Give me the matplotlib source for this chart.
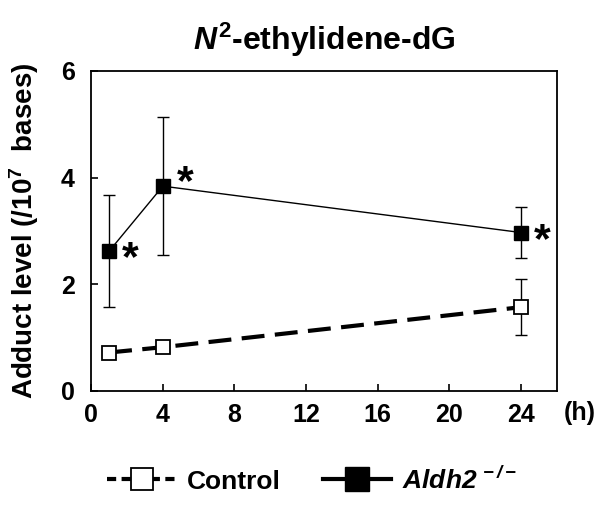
import matplotlib
matplotlib.use("Agg")
import matplotlib.pyplot as plt
from matplotlib.lines import Line2D

plt.rcParams['font.family'] = ['Liberation Sans', 'DejaVu Sans']
plt.rcParams['font.weight'] = 'bold'
plt.rcParams['axes.labelweight'] = 'bold'
plt.rcParams['axes.titleweight'] = 'bold'
plt.rcParams['mathtext.fontset'] = 'custom'
plt.rcParams['mathtext.rm'] = 'Liberation Sans:bold:italic'
plt.rcParams['mathtext.it'] = 'Liberation Sans:bold:italic'
plt.rcParams['mathtext.bf'] = 'Liberation Sans:bold'

# data
hours = [1, 4, 24]
control_mean = [0.72, 0.82, 1.57]
control_err = [0.05, 0.05, 0.52]
aldh2_mean = [2.62, 3.84, 2.97]
aldh2_err = [1.05, 1.30, 0.47]
star_points = [0, 1, 2]  # significant time points (Aldh2)
star_offsets = [(15, -6), (16, 2), (15, -6)]
xticks = [0, 4, 8, 12, 16, 20, 24]
yticks = [0, 2, 4, 6]

fig = plt.figure(figsize=(6, 5.07), dpi=100)
ax = fig.add_axes([0.152, 0.229, 0.776, 0.631])

# control: thick dashed line with open squares
ax.errorbar(hours, control_mean, yerr=control_err, fmt='none', ecolor='black',
            elinewidth=1.0, capsize=4.5, capthick=1.0, zorder=2)
ax.plot(hours, control_mean, color='black', lw=3, dashes=(5.5, 2.5),
        marker='s', markersize=9.5, markerfacecolor='white',
        markeredgecolor='black', markeredgewidth=1.3, zorder=3)

# Aldh2-/-: thin solid line with filled squares
ax.errorbar(hours, aldh2_mean, yerr=aldh2_err, fmt='none', ecolor='black',
            elinewidth=1.0, capsize=4.5, capthick=1.0, zorder=2)
ax.plot(hours, aldh2_mean, color='black', lw=1.0, marker='s', markersize=10,
        markerfacecolor='black', markeredgecolor='black', zorder=3)

for i, off in zip(star_points, star_offsets):
    ax.annotate('*', (hours[i], aldh2_mean[i]), xytext=off,
                textcoords='offset points', ha='center', va='center',
                fontsize=31, fontweight='bold')

ax.set_xlim(0, 26)
ax.set_ylim(0, 6)
ax.set_xticks(xticks)
ax.set_yticks(yticks)
ax.tick_params(direction='in', length=5, width=1.2, labelsize=18)
ax.tick_params(axis='y', pad=12)
ax.tick_params(axis='x', pad=9)
for t in ax.get_xticklabels() + ax.get_yticklabels():
    t.set_fontweight('bold')
for s in ax.spines.values():
    s.set_linewidth(1.3)

ax.set_ylabel(r'Adduct level (/10$^{\mathbf{7}}$  bases)', fontsize=20, labelpad=14)
ax.set_title(r'$N^{\mathbf{2}}$-ethylidene-dG', fontsize=23, pad=15)
ax.annotate('(h)', (1, 0), xycoords='axes fraction', xytext=(5, -16),
            textcoords='offset points', ha='left', va='center', fontsize=18,
            fontweight='bold')

handles = [
    Line2D([], [], color='black', lw=3, dashes=(2.2, 1.3), marker='s',
           markersize=16, markerfacecolor='white', markeredgecolor='black',
           markeredgewidth=1.3),
    Line2D([], [], color='black', lw=3, marker='s', markersize=17,
           markerfacecolor='black', markeredgecolor='black'),
]
labels = ['Control', r'$\mathrm{Aldh2}^{\,-/-}$']
leg = fig.legend(handles, labels, loc='center', bbox_to_anchor=(0.52, 0.053),
                 ncol=2, frameon=False, fontsize=19, handlelength=2.6,
                 handletextpad=0.4, columnspacing=1.6)
for t in leg.get_texts():
    t.set_fontweight('bold')

fig.savefig('out.png', dpi=100, facecolor='white')
